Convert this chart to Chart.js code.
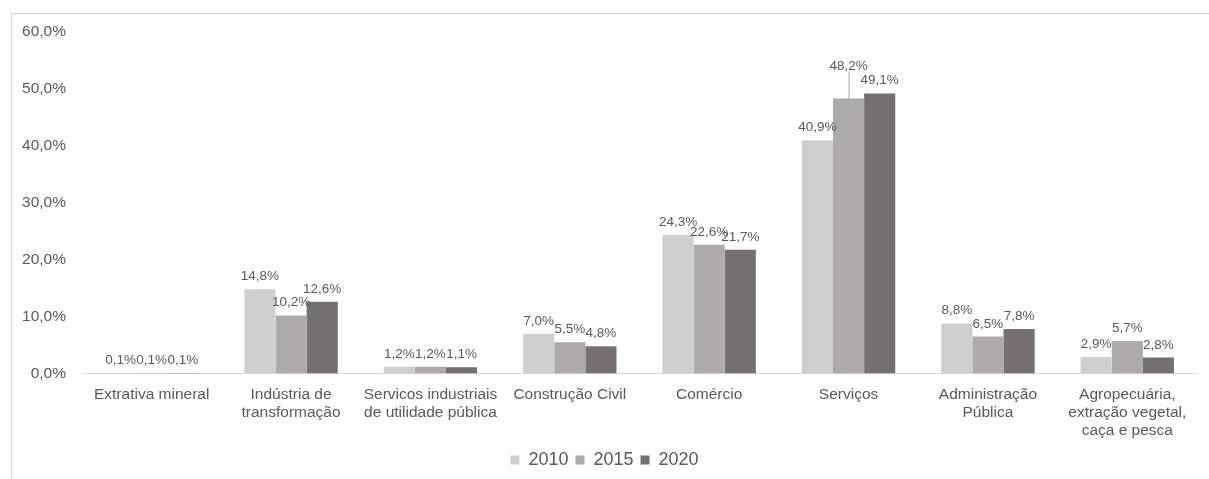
<!DOCTYPE html>
<html>
<head>
<meta charset="utf-8">
<script src="https://cdn.jsdelivr.net/npm/chart.js@4/dist/chart.umd.min.js"></script>
<style>
    body { margin: 0; background: #fff; }
    #box {
        position: absolute;
        left: 11px;
        top: 13px;
        width: 1198px;
        height: 466px;
        border-top: 1px solid #d9d9d9;
        border-left: 1px solid #d9d9d9;
    }
</style>
</head>
<body>
<div id="box"><canvas id="chart" width="1197" height="465"></canvas></div>
<script>
// dados
const categories = [
    'Extrativa mineral',
    ['Indústria de', 'transformação'],
    ['Servicos industriais', 'de utilidade pública'],
    'Construção Civil',
    'Comércio',
    'Serviços',
    ['Administração', 'Pública'],
    ['Agropecuária,', 'extração vegetal,', 'caça e pesca']
];
const seriesNames = ['2010', '2015', '2020'];
const values2010 = [0.1, 14.8, 1.2, 7.0, 24.3, 40.9, 8.8, 2.9];
const values2015 = [0.1, 10.2, 1.2, 5.5, 22.6, 48.2, 6.5, 5.7];
const values2020 = [0.1, 12.6, 1.1, 4.8, 21.7, 49.1, 7.8, 2.8];
const colors = ['#d0cece', '#aeaaaa', '#767171'];

const fmt = v => v.toFixed(1).replace('.', ',') + '%';

Chart.defaults.font.family = "'Liberation Sans', Arial, sans-serif";
Chart.defaults.color = '#595959';

// rótulos acima das barras (48,2% afastado com linha guia, como no original)
const labelLift = { '1-5': 20 };
const dataLabels = {
    id: 'dataLabels',
    afterDatasetsDraw(chart) {
        const ctx = chart.ctx;
        ctx.save();
        ctx.font = "13.5px 'Liberation Sans', Arial, sans-serif";
        ctx.fillStyle = '#595959';
        ctx.textAlign = 'center';
        ctx.textBaseline = 'alphabetic';
        chart.data.datasets.forEach((ds, di) => {
            chart.getDatasetMeta(di).data.forEach((bar, i) => {
                const lift = labelLift[di + '-' + i] || 0;
                const y = bar.y - 9 - lift;
                ctx.fillText(fmt(ds.data[i]), bar.x, y);
                if (lift) {
                    ctx.strokeStyle = '#a6a6a6';
                    ctx.lineWidth = 1;
                    ctx.beginPath();
                    ctx.moveTo(bar.x + 0.5, y + 2);
                    ctx.lineTo(bar.x + 0.5, bar.y);
                    ctx.stroke();
                }
            });
        });
        ctx.restore();
    }
};

new Chart(document.getElementById('chart'), {
    type: 'bar',
    data: {
        labels: categories,
        datasets: [
            { label: seriesNames[0], data: values2010, backgroundColor: colors[0] },
            { label: seriesNames[1], data: values2015, backgroundColor: colors[1] },
            { label: seriesNames[2], data: values2020, backgroundColor: colors[2] }
        ]
    },
    options: {
        responsive: false,
        animation: false,
        categoryPercentage: 0.67,
        barPercentage: 1,
        layout: { padding: { top: -1, left: 0, right: 12, bottom: 0 } },
        plugins: {
            legend: {
                position: 'bottom',
                labels: {
                    boxWidth: 9,
                    boxHeight: 9,
                    padding: 7,
                    font: { size: 18 },
                    color: '#595959'
                }
            },
            tooltip: { enabled: false }
        },
        scales: {
            x: {
                grid: { display: false },
                border: { display: true, color: '#d9d9d9', width: 1 },
                ticks: {
                    maxRotation: 0,
                    autoSkip: false,
                    padding: 4,
                    font: { size: 15.5, lineHeight: 1.17 },
                    color: '#595959'
                }
            },
            y: {
                min: 0,
                max: 60,
                grid: { display: false },
                border: { display: false },
                afterFit: scale => { scale.width = 70; },
                ticks: {
                    stepSize: 10,
                    padding: 8,
                    font: { size: 15.5 },
                    color: '#595959',
                    callback: v => fmt(v)
                }
            }
        }
    },
    plugins: [dataLabels]
});
</script>
</body>
</html>
